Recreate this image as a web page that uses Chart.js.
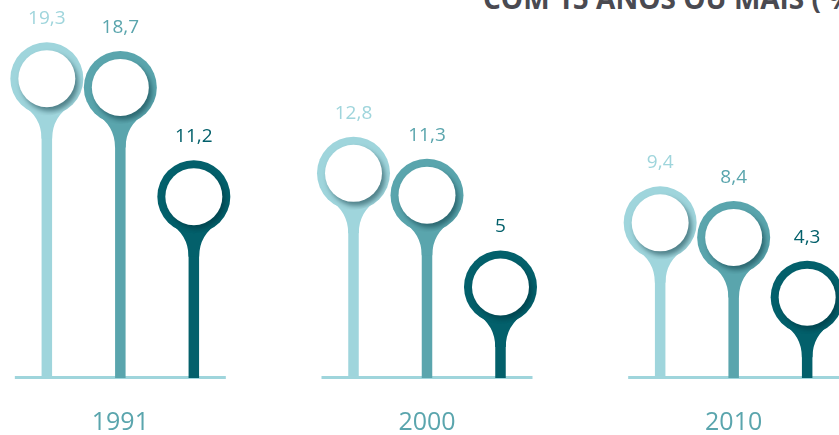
<!DOCTYPE html>
<html>
<head>
<meta charset="utf-8">
<script src="https://cdn.jsdelivr.net/npm/chart.js@4.4.1/dist/chart.umd.min.js"></script>
<style>
html, body { margin: 0; padding: 0; width: 839px; height: 435px; overflow: hidden; background: #fff; }
#title { position: absolute; left: 483px; top: -16px; font: 700 28px/1 "Open Sans", sans-serif; color: #4a4a51; white-space: nowrap; }
#wrap { position: absolute; left: -33px; top: 0; width: 920px; height: 435px; }
</style>
</head>
<body>
<div id="title">COM 15 ANOS OU MAIS ( %)</div>
<div id="wrap"><canvas id="chart"></canvas></div>
<script>
// data
var years = ['1991', '2000', '2010'];
var serie1 = [19.3, 12.8, 9.4];
var serie2 = [18.7, 11.3, 8.4];
var serie3 = [11.2, 5, 4.3];
var colors = ['#9fd5dc', '#5aa5ad', '#03606b'];
var yMin = -1.25;
var yMax = 24.7;

function fmt(v) {
    return String(v).replace('.', ',');
}

// lollipop heads + group baselines
var lollipop = {
    id: 'lollipop',
    beforeDatasetsDraw: function(chart) {
        var ctx = chart.ctx;
        var xs = chart.scales.x;
        var half = xs.width / years.length * 0.344;
        ctx.save();
        ctx.strokeStyle = colors[0];
        ctx.lineWidth = 3;
        for (var i = 0; i < years.length; i++) {
            var x = xs.getPixelForValue(i);
            ctx.beginPath();
            ctx.moveTo(x - half, chart.chartArea.bottom - 0.5);
            ctx.lineTo(x + half, chart.chartArea.bottom - 0.5);
            ctx.stroke();
        }
        ctx.restore();
    },
    afterDatasetsDraw: function(chart) {
        var ctx = chart.ctx;
        var R = 36.5, r = 28.5;
        chart.data.datasets.forEach(function(ds, d) {
            var meta = chart.getDatasetMeta(d);
            meta.data.forEach(function(bar, i) {
                var cx = bar.x, cy = bar.y;
                var col = ds.backgroundColor;
                ctx.save();
                ctx.fillStyle = col;
                // flare into the stem
                ctx.beginPath();
                ctx.moveTo(cx - 25, cy + 26);
                ctx.quadraticCurveTo(cx - 5.3, cy + 38, cx - 5.3, cy + 60);
                ctx.lineTo(cx + 5.3, cy + 60);
                ctx.quadraticCurveTo(cx + 5.3, cy + 38, cx + 25, cy + 26);
                ctx.closePath();
                ctx.fill();
                // ring
                ctx.beginPath();
                ctx.arc(cx, cy, R, 0, Math.PI * 2);
                ctx.fill();
                // white hole with soft shadow on the ring
                ctx.beginPath();
                ctx.arc(cx, cy, R, 0, Math.PI * 2);
                ctx.clip();
                ctx.shadowColor = 'rgba(0, 45, 55, 0.5)';
                ctx.shadowBlur = 5;
                ctx.shadowOffsetX = 3;
                ctx.shadowOffsetY = 4;
                ctx.fillStyle = '#ffffff';
                ctx.beginPath();
                ctx.arc(cx, cy, r, 0, Math.PI * 2);
                ctx.fill();
                ctx.restore();
                // value label
                ctx.save();
                ctx.fillStyle = col;
                ctx.font = '500 19px "Open Sans", sans-serif';
                ctx.textAlign = 'center';
                ctx.textBaseline = 'middle';
                ctx.fillText(fmt(ds.data[i]), cx, cy - 60);
                ctx.restore();
            });
        });
    }
};

var ctx = document.getElementById('chart').getContext('2d');
var myChart = new Chart(ctx, {
    type: 'bar',
    data: {
        labels: years,
        datasets: [
            { data: serie1, backgroundColor: colors[0], base: yMin },
            { data: serie2, backgroundColor: colors[1], base: yMin },
            { data: serie3, backgroundColor: colors[2], base: yMin }
        ]
    },
    options: {
        responsive: true,
        maintainAspectRatio: false,
        animation: false,
        events: [],
        categoryPercentage: 0.719,
        barPercentage: 1,
        maxBarThickness: 10.5,
        layout: { padding: 0 },
        plugins: {
            legend: { display: false },
            tooltip: { enabled: false }
        },
        scales: {
            x: {
                grid: { display: false, drawTicks: false },
                border: { display: false },
                ticks: {
                    color: colors[1],
                    padding: 32,
                    font: { family: '"Open Sans", sans-serif', size: 25, lineHeight: 1 }
                },
                afterFit: function(scale) { scale.height = 57; }
            },
            y: { display: false, min: yMin, max: yMax }
        }
    },
    plugins: [lollipop]
});
</script>
</body>
</html>
